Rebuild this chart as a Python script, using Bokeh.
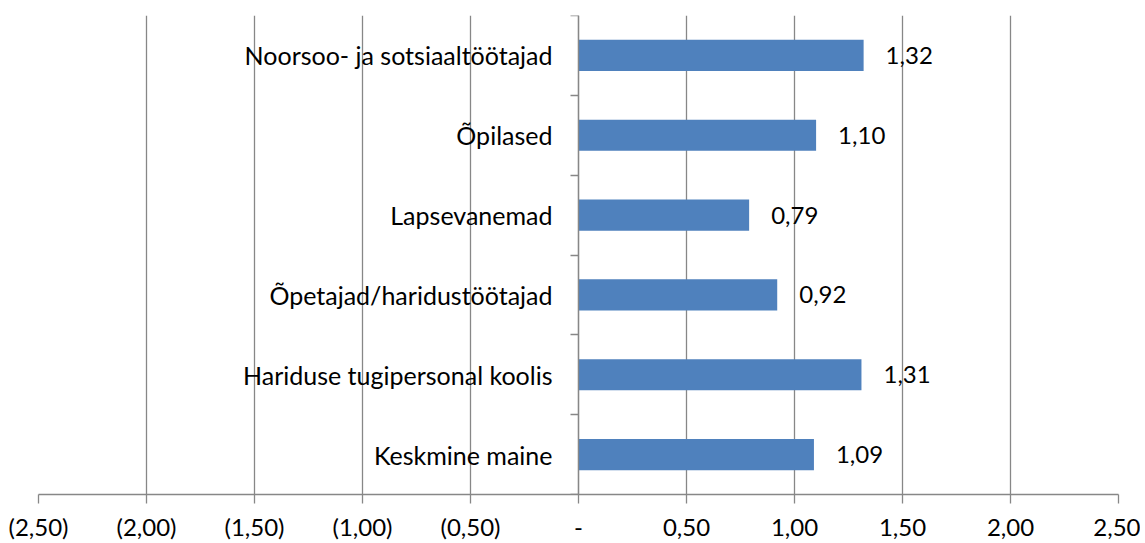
from bokeh.plotting import figure
from bokeh.models import (ColumnDataSource, Range1d, LinearAxis,
                          FixedTicker, CustomJSTickFormatter)
from bokeh.core.properties import value
from bokeh.embed import file_html
from bokeh.resources import INLINE

categories = ["Keskmine maine", "Hariduse tugipersonal koolis", "Õpetajad/haridustöötajad",
              "Lapsevanemad", "Õpilased", "Noorsoo- ja sotsiaaltöötajad"]
values = [1.09, 1.31, 0.92, 0.79, 1.10, 1.32]
x_ticks = [-2.5, -2.0, -1.5, -1.0, -0.5, 0.0, 0.5, 1.0, 1.5, 2.0, 2.5]

FONT = "Lato"
GRAY = "#878787"

n = len(categories)
ypos = [i + 0.5 for i in range(n)]
boundary_ticks = list(range(n + 1))
labels = [f"{v:.2f}".replace(".", ",") for v in values]
src = ColumnDataSource(dict(y=ypos, val=values, lab=labels))

p = figure(width=1140, height=543, output_backend="svg", toolbar_location=None,
           x_range=Range1d(-2.5, 2.5), y_range=Range1d(0, n),
           min_border_left=38, min_border_right=22, min_border_top=15, min_border_bottom=49,
           y_axis_location=None)
p.outline_line_color = None
p.ygrid.visible = False
p.xgrid.ticker = FixedTicker(ticks=x_ticks)
p.xgrid.grid_line_color = GRAY
p.xgrid.grid_line_width = 1.3

p.hbar(y="y", left=0, right="val", height=0.39, source=src,
       fill_color="#4F81BD", line_color=None)

p.text(x="val", y="y", text="lab", source=src, x_offset=22,
       text_align="left", text_baseline="middle", text_font=value(FONT),
       text_font_size="24px", text_color="black")

# bottom x axis
xa = p.xaxis[0]
xa.ticker = FixedTicker(ticks=x_ticks)
xa.formatter = CustomJSTickFormatter(code="""
const a = Math.abs(tick).toFixed(2).replace('.', ',');
if (Math.abs(tick) < 1e-9) { return '-'; }
return tick < 0 ? '(' + a + ')' : a;
""")
xa.axis_line_color = GRAY
xa.axis_line_width = 1.3
xa.major_tick_line_color = GRAY
xa.major_tick_line_width = 1.3
xa.major_tick_out = 9
xa.major_tick_in = 0
xa.minor_tick_line_color = None
xa.major_label_text_font = FONT
xa.major_label_text_font_size = "24px"
xa.major_label_text_color = "black"
xa.major_label_standoff = 8

# vertical category axis placed at x = 0: boundary ticks
tick_axis = LinearAxis(fixed_location=0, ticker=FixedTicker(ticks=boundary_ticks))
tick_axis.major_label_text_font_size = "0px"
tick_axis.major_label_text_color = None
tick_axis.axis_line_color = GRAY
tick_axis.axis_line_width = 1.3
tick_axis.major_tick_line_color = GRAY
tick_axis.major_tick_line_width = 1.3
tick_axis.major_tick_out = 8
tick_axis.major_tick_in = 0
tick_axis.minor_tick_line_color = None
p.add_layout(tick_axis, "left")

# category labels at band centres
cat_axis = LinearAxis(fixed_location=0, ticker=FixedTicker(ticks=ypos))
cat_axis.major_label_overrides = {y: c for y, c in zip(ypos, categories)}
cat_axis.axis_line_color = None
cat_axis.major_tick_line_color = None
cat_axis.minor_tick_line_color = None
cat_axis.major_tick_out = 0
cat_axis.major_label_standoff = 26
cat_axis.major_label_text_font = FONT
cat_axis.major_label_text_font_size = "25px"
cat_axis.major_label_text_color = "black"
p.add_layout(cat_axis, "left")

open("out.html", "w").write(file_html(p, INLINE))
